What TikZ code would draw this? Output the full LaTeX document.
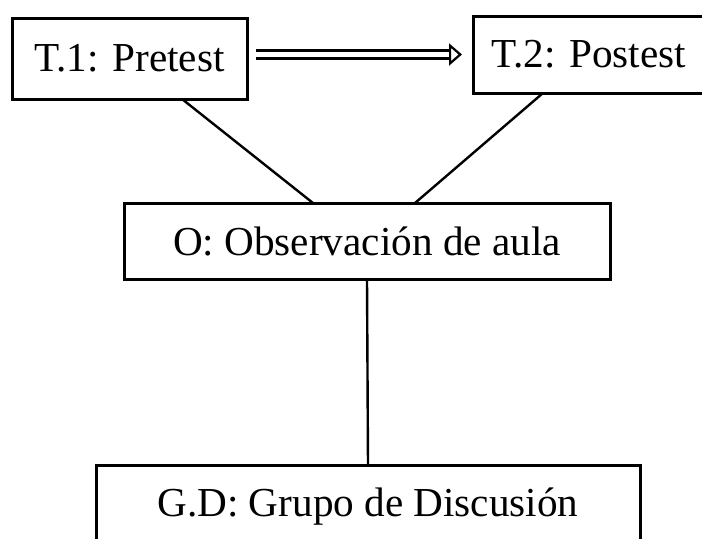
\documentclass[tikz,border=0pt]{standalone}
\usepackage{fontspec}
\setmainfont{Liberation Serif}
\usetikzlibrary{arrows.meta}

\tikzset{
  caja/.style={draw, line width=1.5pt, inner sep=0pt, outer sep=0pt,
    font=\fontsize{20.6}{24}\selectfont},
  enlace/.style={line width=1.2pt},
  flecha/.style={double, double distance=2.9pt, line width=1.2pt,
    -{Triangle[open, length=6.5pt, width=11pt, line width=1.1pt]},
    shorten <=4.5pt, shorten >=5.5pt},
}

\begin{document}
\begin{tikzpicture}[x=0.5pt, y=-0.5pt]
    \useasboundingbox (0,0) rectangle (702,538);
    \clip (0,0) rectangle (702,538);
    % tests
    \node[caja, minimum width=117.5pt, minimum height=40.5pt] (t1) at (129.5,58.5) {T.1: Pretest};
    \node[caja, minimum width=115.5pt, minimum height=38.5pt] (t2) at (588.5,54.5) {T.2: Postest};
    % observacion y grupo
    \node[caja, minimum width=243pt, minimum height=38pt] (obs) at (367,241) {O: Observación de aula};
    \node[caja, minimum width=272pt, minimum height=42pt] (gd) at (368,507) {G.D: Grupo de Discusión};
    \draw[flecha] (t1.east |- t2.west) -- (t2.west);
    \draw[enlace] ([xshift=26.25pt]t1.south) -- ([xshift=-27pt]obs.north);
    \draw[enlace] ([xshift=-22.75pt]t2.south) -- ([xshift=24pt]obs.north);
    \draw[enlace] (obs.south) -- (gd.north);
\end{tikzpicture}
\end{document}
